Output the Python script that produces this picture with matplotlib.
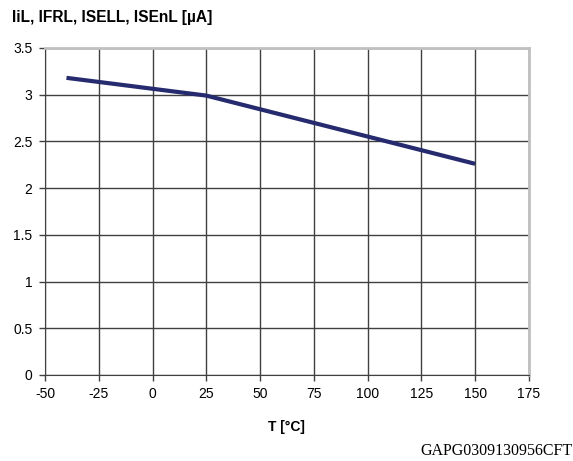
import matplotlib
matplotlib.use("Agg")
import matplotlib.pyplot as plt

temp = [-40, 25, 150]
current = [3.18, 2.99, 2.26]
xticks = [-50, -25, 0, 25, 50, 75, 100, 125, 150, 175]
yticks = [0, 0.5, 1, 1.5, 2, 2.5, 3, 3.5]

plt.rcParams['font.family'] = ['Liberation Sans', 'DejaVu Sans']

fig = plt.figure(figsize=(5.73, 4.61), dpi=100)
ax = fig.add_axes([0.0785, 0.1866, 0.8445, 0.7094])

ax.plot(temp, current, color='#262a6e', lw=3, solid_capstyle='butt', zorder=3)

ax.set_xlim(-50, 175)
ax.set_ylim(0, 3.5)
ax.set_xticks(xticks)
ax.set_yticks(yticks)
ax.set_xticklabels([str(t) for t in xticks])
ax.set_yticklabels([f"{t:g}" for t in yticks])
ax.tick_params(labelsize=10, length=4, width=1, color='#404040', pad=5)
ax.grid(True, color='#404040', lw=1)
ax.set_axisbelow(True)

ax.spines['left'].set_color('#404040')
ax.spines['bottom'].set_color('#404040')
ax.spines['top'].set_color('#c0c0c0')
ax.spines['right'].set_color('#c0c0c0')
ax.spines['top'].set_linewidth(2)
ax.spines['right'].set_linewidth(2)

fig.text(0.021, 0.962, "IiL, IFRL, ISELL, ISEnL [µA]", fontsize=11.2, fontweight='bold', va='center')
ax.set_xlabel("T [°C]", fontsize=10, fontweight='bold', labelpad=13)
fig.text(0.999, 0.021, "GAPG0309130956CFT", fontsize=11.5, family='Liberation Serif', ha='right', va='center')

fig.savefig("out.png", dpi=100)
